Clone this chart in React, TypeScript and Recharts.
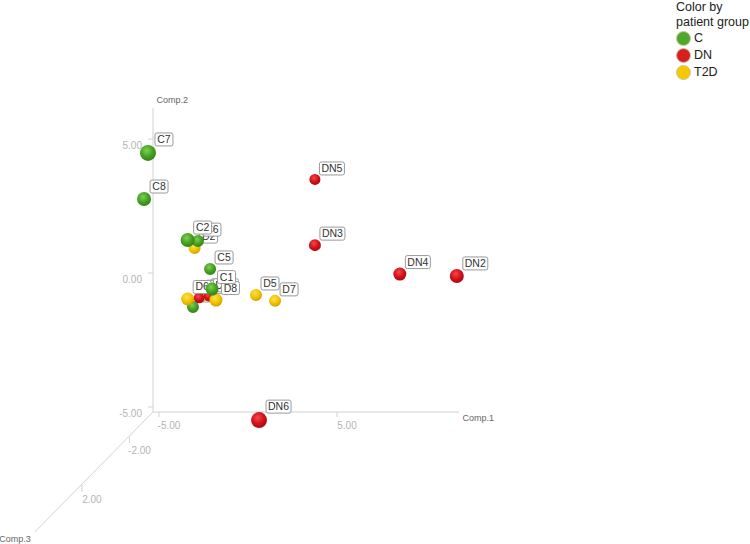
import { ScatterChart, Scatter, XAxis, YAxis, ZAxis, LabelList, Legend, ReferenceLine, ReferenceDot } from 'recharts';

// drawn back to front
const sampleNames = ['DN5', 'DN3', 'DN4', 'DN2', 'DN6', 'C3', 'C4', 'D1', 'DN7', 'DN1', 'D6', 'D8', 'C1', 'D5', 'D7', 'C5', 'D2', 'C6', 'C2', 'C8', 'C7'];
const sampleGroups = ['DN', 'DN', 'DN', 'DN', 'DN', 'C', 'C', 'T2D', 'DN', 'DN', 'T2D', 'T2D', 'C', 'T2D', 'T2D', 'C', 'T2D', 'C', 'C', 'C', 'C'];
const comp1 = [3.76, 3.76, 8.53, 11.73, 0.62, -3.09, -2.3, -2.6, -2.75, -2.19, -3.39, -1.8, -2.02, 0.45, 1.52, -2.13, -3.0, -2.81, -3.39, -5.84, -5.62];
const comp2 = [3.49, 1.04, -0.04, -0.11, -5.49, -1.27, -0.85, -0.9, -0.93, -0.86, -0.97, -1.01, -0.6, -0.82, -1.04, 0.15, 0.93, 1.19, 1.23, 2.76, 4.48];
const comp3 = [-1.75, -0.85, 0.15, 1.2, 3.55, -0.85, -2.6, -2.6, -2.0, -2.0, 0.15, 0.15, 0.15, -0.85, -0.85, -0.85, -0.85, -0.85, 1.2, 1.2, 3.55];

const groups = ['C', 'DN', 'T2D'];
const groupColors = ['#4fa82c', '#d81e1e', '#f5c800'];
const sphereStops = [
  ['#7fd055', '#45a022', '#2f7d14'],
  ['#f04a4a', '#d5101a', '#a00a10'],
  ['#ffe14a', '#f2c200', '#c79a00'],
];

const comp1Ticks = [-5, 5];
const comp2Ticks = [-5, 0, 5];
const comp1Domain = [-5.337, 11.854];
const comp2Domain = [-5.187, 6.157];

// third axis as it lands on the screen, in comp1/comp2 units
const comp3Axis = [[-5.337, -5.187], [-11.97, -9.66]];
const comp3TickLabels = ['-2.00', '2.00'];
const comp3TickX = [-6.66, -9.33];
const comp3TickTop = [-6.12, -7.91];
const comp3TickBottom = [-6.34, -8.17];

const points = sampleNames.map((name, i) => ({
  name,
  group: sampleGroups[i],
  x: comp1[i],
  y: comp2[i],
  z: comp3[i],
}));

const FONT = '"Liberation Sans", Arial, sans-serif';
const AXIS_LINE = '#d2d2d2';
const TICK_TEXT = '#b4b4b4';

const XTick = ({ x, y, payload }: any) => (
  <text x={x + 10} y={y + 10} fontSize={10} fontFamily={FONT} fill={TICK_TEXT} textAnchor="middle">
    {payload.value.toFixed(2)}
  </text>
);

const YTick = ({ x, y, payload }: any) => (
  <text x={x - 4} y={y + 10} fontSize={10} fontFamily={FONT} fill={TICK_TEXT} textAnchor="end">
    {payload.value.toFixed(2)}
  </text>
);

const SampleLabel = (props: any) => {
  const box = props.viewBox ?? props;
  const text = String(props.value);
  const w = text.length * 7 + 4;
  const left = box.x + box.width - 1;
  const top = box.y + 1 - 13;
  return (
    <g>
      <rect x={left} y={top} width={w} height={13} rx={2} fill="#fff" stroke="#9a9a9a" strokeWidth={1} />
      <text x={left + w / 2} y={top + 10} fontSize={10.5} fontFamily={FONT} fill="#333" textAnchor="middle">
        {text}
      </text>
    </g>
  );
};

const GroupLegend = () => (
  <div style={{ fontFamily: FONT, fontSize: 12.5, color: '#222', lineHeight: '15px', width: 74 }}>
    <div>Color by</div>
    <div style={{ whiteSpace: 'nowrap' }}>patient group</div>
    {groups.map((g, i) => (
      <div key={g} style={{ display: 'flex', alignItems: 'center', height: 17 }}>
        <span
          style={{
            width: 13,
            height: 13,
            borderRadius: '50%',
            background: groupColors[i],
            border: '1px solid #c9c9a0',
            marginRight: 3,
            flex: 'none',
          }}
        />
        {g}
      </div>
    ))}
  </div>
);

export default function App() {
  return (
    <div style={{ position: 'absolute', left: 0, top: 0, width: 750, height: 544, background: '#fff' }}>
      <style>{'.recharts-wrapper g[clip-path]{clip-path:none}'}</style>
      <ScatterChart width={750} height={544} margin={{ top: 108, right: 291, bottom: 102, left: 113 }}>
        <defs>
          {groups.map((g, i) => (
            <radialGradient key={g} id={`sphere-${g}`} cx="42%" cy="35%" r="70%">
              <stop offset="0%" stopColor={sphereStops[i][0]} />
              <stop offset="55%" stopColor={sphereStops[i][1]} />
              <stop offset="100%" stopColor={sphereStops[i][2]} />
            </radialGradient>
          ))}
        </defs>
        <XAxis
          type="number"
          dataKey="x"
          domain={comp1Domain}
          allowDataOverflow
          ticks={comp1Ticks}
          height={30}
          stroke={AXIS_LINE}
          tick={XTick}
          tickSize={5}
          label={{ value: 'Comp.1', position: 'insideTopRight', dx: 40, dy: -2, fontSize: 9, fontFamily: FONT, fill: '#666' }}
        />
        <YAxis
          type="number"
          dataKey="y"
          domain={comp2Domain}
          allowDataOverflow
          ticks={comp2Ticks}
          width={40}
          stroke={AXIS_LINE}
          tick={YTick}
          tickSize={5}
          label={{ value: 'Comp.2', position: 'insideTopRight', dx: 40, dy: -16, fontSize: 9, fontFamily: FONT, fill: '#666' }}
        />
        <ZAxis type="number" dataKey="z" domain={[-3, 4]} range={[70, 210]} />
        <Legend
          content={GroupLegend}
          layout="vertical"
          verticalAlign="middle"
          align="center"
          wrapperStyle={{ position: 'absolute', left: 676, top: 0, width: 74 }}
        />
        <ReferenceLine
          segment={[
            { x: comp3Axis[0][0], y: comp3Axis[0][1] },
            { x: comp3Axis[1][0], y: comp3Axis[1][1] },
          ]}
          stroke={AXIS_LINE}
          ifOverflow="visible"
        />
        {comp3TickX.map((x, i) => (
          <ReferenceLine
            key={x}
            segment={[
              { x, y: comp3TickTop[i] },
              { x, y: comp3TickBottom[i] },
            ]}
            stroke={AXIS_LINE}
            ifOverflow="visible"
          />
        ))}
        {comp3TickX.map((x, i) => (
          <ReferenceDot
            key={comp3TickLabels[i]}
            x={x}
            y={comp3TickBottom[i]}
            r={0}
            ifOverflow="visible"
            label={{ value: comp3TickLabels[i], position: 'center', dx: 10, dy: 8, fontSize: 10, fontFamily: FONT, fill: TICK_TEXT }}
          />
        ))}
        <ReferenceDot
          x={comp3Axis[1][0]}
          y={comp3Axis[1][1]}
          r={0}
          ifOverflow="visible"
          label={{ value: 'Comp.3', position: 'center', dx: -20, dy: 7, fontSize: 9, fontFamily: FONT, fill: '#666' }}
        />
        {/* one series per sample so each label stays at its sphere's depth */}
        {points.map((p, i) => (
          <Scatter key={p.name} data={[p]} fill={`url(#sphere-${p.group})`} isAnimationActive={false} zIndex={700 + i * 2}>
            <LabelList dataKey="name" content={SampleLabel} zIndex={701 + i * 2} />
          </Scatter>
        ))}
      </ScatterChart>
    </div>
  );
}
